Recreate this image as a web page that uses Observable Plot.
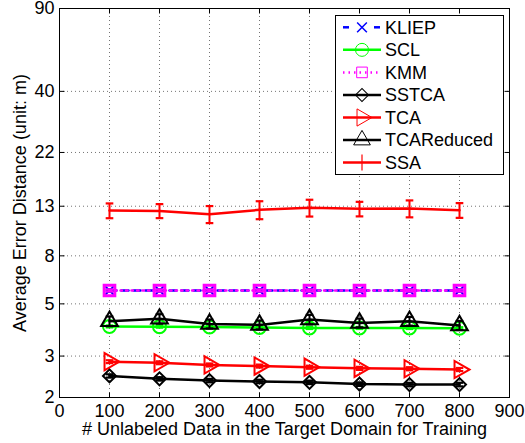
<!DOCTYPE html>
<html><head><meta charset="utf-8">
<script src="https://cdn.jsdelivr.net/npm/d3@7"></script>
<script src="https://cdn.jsdelivr.net/npm/@observablehq/plot@0.6"></script>
<style>
body{margin:0;background:#fff;}
#chart{width:525px;height:443px;}
</style></head><body><div id="chart"></div>
<script>
// ---- data ----
const xValues = [100, 200, 300, 400, 500, 600, 700, 800];
const xTicks = [0, 100, 200, 300, 400, 500, 600, 700, 800, 900];
const yTicks = [2, 3, 5, 8, 13, 22, 40, 90];
const seriesNames = ["KLIEP", "SCL", "KMM", "SSTCA", "TCA", "TCAReduced", "SSA"];
const kliep      = [5.70, 5.70, 5.70, 5.70, 5.70, 5.70, 5.70, 5.70];
const kliepErr   = [0.05, 0.05, 0.05, 0.05, 0.05, 0.05, 0.05, 0.05];
const scl        = [4.01, 4.00, 3.99, 3.97, 3.95, 3.95, 3.95, 3.94];
const sclErr     = [0.04, 0.04, 0.04, 0.04, 0.04, 0.04, 0.04, 0.04];
const kmm        = [5.70, 5.70, 5.70, 5.70, 5.70, 5.70, 5.70, 5.70];
const kmmErr     = [0.06, 0.06, 0.06, 0.06, 0.06, 0.06, 0.06, 0.06];
const sstca      = [2.47, 2.40, 2.36, 2.34, 2.32, 2.28, 2.27, 2.27];
const sstcaErr   = [0.04, 0.04, 0.04, 0.04, 0.04, 0.04, 0.04, 0.04];
const tca        = [2.84, 2.81, 2.75, 2.72, 2.69, 2.66, 2.65, 2.63];
const tcaErr     = [0.04, 0.04, 0.04, 0.04, 0.04, 0.04, 0.04, 0.04];
const tcaReduced = [4.22, 4.32, 4.11, 4.07, 4.29, 4.15, 4.22, 4.05];
const tcaRedErr  = [0.20, 0.20, 0.18, 0.18, 0.20, 0.18, 0.18, 0.18];
const ssa        = [12.46, 12.42, 12.02, 12.55, 12.80, 12.67, 12.71, 12.50];
const ssaErr     = [0.90, 0.85, 1.00, 1.10, 1.05, 0.90, 1.05, 0.90];

const xLabel = "# Unlabeled Data in the Target Domain for Training";
const yLabel = "Average Error Distance (unit: m)";

// ---- styles ----
const hcap = {draw(ctx, size) { const w = Math.sqrt(size) / 2; ctx.moveTo(-w, 0); ctx.lineTo(w, 0); }};
const tickUp = {draw(ctx) { ctx.moveTo(0, 0); ctx.lineTo(0, -5); }};
const tickDown = {draw(ctx) { ctx.moveTo(0, 0); ctx.lineTo(0, 5); }};
const tickRight = {draw(ctx) { ctx.moveTo(0, 0); ctx.lineTo(5, 0); }};
const tickLeft = {draw(ctx) { ctx.moveTo(0, 0); ctx.lineTo(-5, 0); }};
const styles = [
  {name: "KLIEP", values: kliep, err: kliepErr, color: "#0000ff", dash: "7,5", symbol: "times", r: 4.5, rotate: 0, sw: 2},
  {name: "SCL", values: scl, err: sclErr, color: "#00ff00", dash: null, symbol: "circle", r: 6.5, rotate: 0, sw: 2},
  {name: "KMM", values: kmm, err: kmmErr, color: "#ff00ff", dash: "1.5,4", symbol: "square", r: 6.0, rotate: 0, sw: 3},
  {name: "SSTCA", values: sstca, err: sstcaErr, color: "#000000", dash: null, symbol: "square", r: 5.2, rotate: 45, sw: 2},
  {name: "TCA", values: tca, err: tcaErr, color: "#ff0000", dash: null, symbol: "triangle", r: 6.4, rotate: 90, sw: 2},
  {name: "TCAReduced", values: tcaReduced, err: tcaRedErr, color: "#000000", dash: null, symbol: "triangle", r: 6.2, rotate: 0, sw: 2},
  {name: "SSA", values: ssa, err: ssaErr, color: "#ff0000", dash: null, symbol: null, r: 0, rotate: 0, sw: 2}
];

const marks = [
  Plot.ruleX(xTicks.slice(1, -1), {stroke: "#000", strokeOpacity: 0.55, strokeDasharray: "1,3"}),
  Plot.ruleY(yTicks.slice(1, -1), {stroke: "#000", strokeOpacity: 0.55, strokeDasharray: "1,3"})
];

for (const s of styles) {
  const rows = xValues.map((x, i) => ({x, y: s.values[i], e: s.err[i]}));
  marks.push(Plot.line(rows, {x: "x", y: "y", stroke: s.color, strokeWidth: 2.5, strokeDasharray: s.dash}));
  marks.push(Plot.link(rows, {x1: "x", x2: "x", y1: d => d.y - d.e, y2: d => d.y + d.e, stroke: s.color, strokeWidth: 2}));
  marks.push(Plot.dot(rows, {x: "x", y: d => d.y + d.e, symbol: hcap, r: 4.3, stroke: s.color, strokeWidth: 2.2, fill: "none"}));
  marks.push(Plot.dot(rows, {x: "x", y: d => d.y - d.e, symbol: hcap, r: 4.3, stroke: s.color, strokeWidth: 2.2, fill: "none"}));
  if (s.symbol) {
    marks.push(Plot.dot(rows, {x: "x", y: "y", symbol: s.symbol, r: s.r, rotate: s.rotate, stroke: s.color, strokeWidth: s.sw, fill: "none"}));
  }
}

const tickOpts = {stroke: "#000", strokeWidth: 1, fill: "none", r: 3};
marks.push(
  Plot.frame({stroke: "#000", strokeWidth: 1}),
  Plot.dot(xTicks, {...tickOpts, x: d => d, frameAnchor: "bottom", symbol: tickUp}),
  Plot.dot(xTicks, {...tickOpts, x: d => d, frameAnchor: "top", symbol: tickDown}),
  Plot.dot(yTicks, {...tickOpts, y: d => d, frameAnchor: "left", symbol: tickRight}),
  Plot.dot(yTicks, {...tickOpts, y: d => d, frameAnchor: "right", symbol: tickLeft}),
  Plot.text(xTicks, {x: d => d, frameAnchor: "bottom", lineAnchor: "top", dy: 7, textAnchor: "middle", text: d => String(d), fill: "#000", fontSize: 18}),
  Plot.text(yTicks, {y: d => d, frameAnchor: "left", lineAnchor: "middle", dx: -5, textAnchor: "end", text: d => String(d), fill: "#000", fontSize: 18}),
  Plot.text([xLabel], {frameAnchor: "bottom", lineAnchor: "middle", textAnchor: "middle", dy: 32, text: d => d, fill: "#000", fontSize: 18}),
  Plot.text([yLabel], {frameAnchor: "left", lineAnchor: "middle", textAnchor: "middle", dx: -39, rotate: -90, text: d => d, fill: "#000", fontSize: 18})
);

const chart = Plot.plot({
  width: 525, height: 443,
  marginLeft: 59, marginRight: 16, marginTop: 8, marginBottom: 46,
  style: {fontFamily: "'Liberation Sans', Arial, sans-serif", fontSize: "18px", color: "#000", background: "#fff", overflow: "visible"},
  x: {domain: [0, 900], axis: null},
  y: {type: "log", domain: [2, 90], axis: null},
  marks
});
document.getElementById("chart").appendChild(chart);

// ---- legend ----
const svg = d3.select(chart);
const lg = svg.append("g").attr("font-family", "'Liberation Sans', Arial, sans-serif").attr("font-size", 18).attr("text-anchor", "start");
lg.append("rect").attr("x", 335.5).attr("y", 15.5).attr("width", 168).attr("height", 159)
  .attr("fill", "#fff").attr("stroke", "#000").attr("stroke-width", 1);
const symMap = {circle: d3.symbolCircle, square: d3.symbolSquare, triangle: d3.symbolTriangle, times: d3.symbolTimes};
styles.forEach((s, i) => {
  const cy = 27.3 + i * 22.55;
  const g = lg.append("g");
  if (s.name === "KLIEP") {
    g.append("line").attr("x1", 343).attr("x2", 349).attr("y1", cy).attr("y2", cy).attr("stroke", s.color).attr("stroke-width", 2.5);
    g.append("line").attr("x1", 374).attr("x2", 380).attr("y1", cy).attr("y2", cy).attr("stroke", s.color).attr("stroke-width", 2.5);
  } else {
    g.append("line").attr("x1", 343).attr("x2", 381).attr("y1", cy).attr("y2", cy)
      .attr("stroke", s.color).attr("stroke-width", 2.5).attr("stroke-dasharray", s.dash ? "1.5,4" : null);
  }
  if (s.symbol) {
    const size = Math.PI * s.r * s.r;
    g.append("path").attr("d", d3.symbol(symMap[s.symbol], size)())
      .attr("transform", `translate(362,${cy}) rotate(${s.rotate})`)
      .attr("fill", "none").attr("stroke", s.color).attr("stroke-width", s.name === "KLIEP" ? 1.5 : 1);
  } else {
    g.append("line").attr("x1", 362).attr("x2", 362).attr("y1", cy - 8).attr("y2", cy + 8).attr("stroke", s.color).attr("stroke-width", 1.2);
  }
  g.append("text").attr("x", 385).attr("y", cy).attr("dy", "0.35em").attr("fill", "#000").attr("text-anchor", "start").text(s.name);
});
</script></body></html>
